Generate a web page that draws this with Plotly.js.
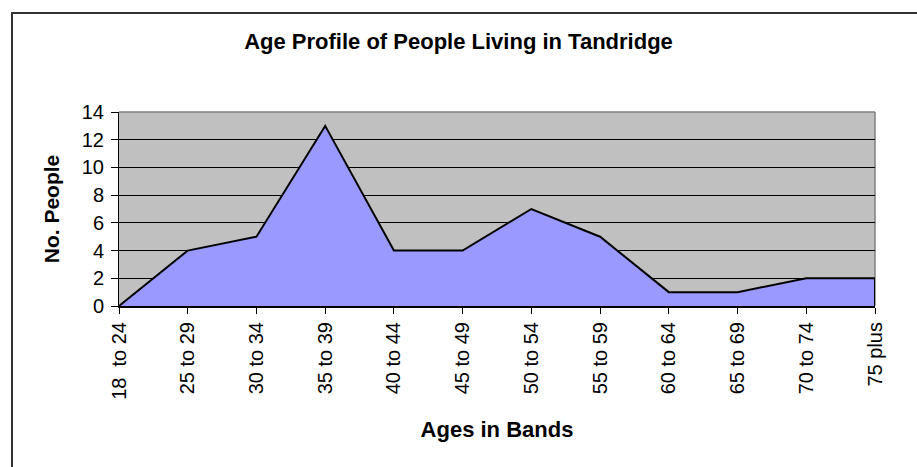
<!DOCTYPE html>
<html>
<head>
<meta charset="utf-8">
<script src="https://cdn.plot.ly/plotly-3.0.1.min.js"></script>
<style>
  html, body { margin: 0; padding: 0; background: #fff; overflow: hidden; }
  #wrap { position: relative; width: 917px; height: 467px; overflow: hidden; }
  #chart { position: absolute; left: 0; top: 0; width: 917px; height: 467px; }
  #frame { position: absolute; left: 11px; top: 12px; width: 1000px; height: 600px;
           border: 2px solid #333; box-sizing: border-box; pointer-events: none; }
</style>
</head>
<body>
<div id="wrap">
  <div id="chart"></div>
  <div id="frame"></div>
</div>
<script>
const chartTitle = "Age Profile of People Living in Tandridge";
const xTitle = "Ages in Bands";
const yTitle = "No. People";
const categories = ["18\u00a0 to 24", "25 to 29", "30 to 34", "35 to 39", "40 to 44", "45 to 49",
                    "50 to 54", "55 to 59", "60 to 64", "65 to 69", "70 to 74", "75 plus"];
const people = [0, 4, 5, 13, 4, 4, 7, 5, 1, 1, 2, 2];
const yTicks = [0, 2, 4, 6, 8, 10, 12, 14];

const FONT = "Arial, 'Liberation Sans', sans-serif";
const last = categories.length - 1;

const traces = [
  {
    type: "scatter", mode: "lines",
    x: categories, y: people,
    fill: "tozeroy", fillcolor: "#9999FF",
    line: { color: "#000000", width: 2 },
    hoverinfo: "x+y", showlegend: false
  },
  {
    type: "scatter", mode: "lines",
    x: [categories[last], categories[last]], y: [0, people[last]],
    line: { color: "#000000", width: 2 },
    hoverinfo: "skip", showlegend: false
  }
];

const layout = {
  width: 917, height: 467,
  margin: { l: 119, r: 42, t: 112, b: 161, pad: 0 },
  paper_bgcolor: "rgba(0,0,0,0)",
  plot_bgcolor: "#C0C0C0",
  font: { family: FONT, color: "#000", size: 20 },
  title: {
    text: chartTitle,
    font: { family: FONT, size: 22, weight: "bold", color: "#000" },
    x: 0.5, xref: "container", xanchor: "center",
    y: 1 - 41 / 467, yref: "container", yanchor: "middle"
  },
  xaxis: {
    type: "category",
    range: [0, last],
    tickangle: -90,
    ticks: "outside", ticklen: 6, tickwidth: 1, tickcolor: "#000",
    showline: true, linecolor: "#000", linewidth: 2,
    showgrid: false, zeroline: false,
    tickfont: { family: FONT, size: 20, color: "#000" },
    title: { text: xTitle, font: { family: FONT, size: 22, weight: "bold", color: "#000" }, standoff: 23 },
    automargin: false, fixedrange: true
  },
  yaxis: {
    range: [0, 14],
    tickvals: yTicks,
    ticks: "outside", ticklen: 7, tickwidth: 1, tickcolor: "#000",
    ticklabelstandoff: 3,
    showline: true, linecolor: "#000", linewidth: 1,
    showgrid: true, gridcolor: "#000", gridwidth: 1,
    zeroline: false,
    tickfont: { family: FONT, size: 20, color: "#000" },
    title: { text: yTitle, font: { family: FONT, size: 21, weight: "bold", color: "#000" }, standoff: 16 },
    automargin: false, fixedrange: true
  },
  shapes: [
    { type: "line", xref: "paper", yref: "paper", x0: 0, x1: 1, y0: 1, y1: 1,
      line: { color: "#808080", width: 1.5 }, layer: "above" },
    { type: "line", xref: "paper", yref: "paper", x0: 1, x1: 1, y0: 0, y1: 1,
      line: { color: "#808080", width: 1.5 }, layer: "between" }
  ]
};

Plotly.newPlot("chart", traces, layout, { displayModeBar: false, staticPlot: true });
</script>
</body>
</html>
